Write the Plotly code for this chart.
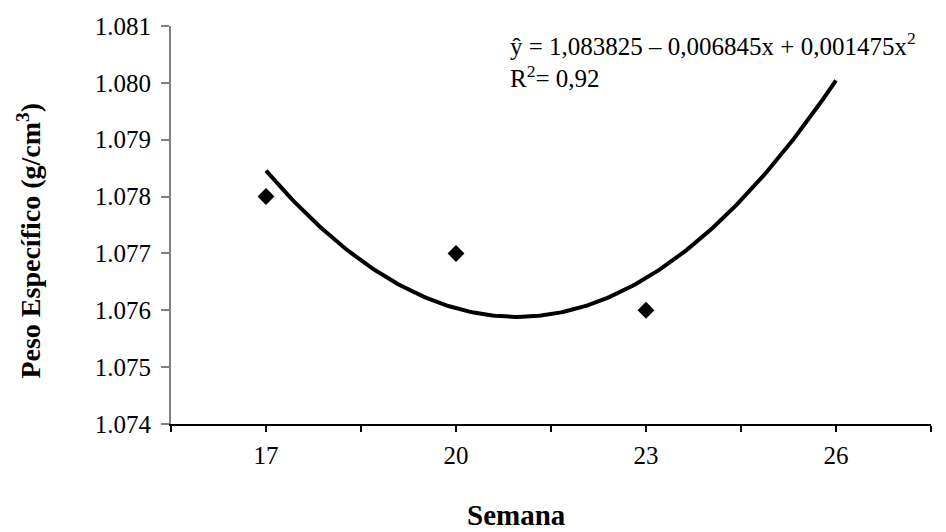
import numpy as np
import plotly.graph_objects as go

# Observed specific weight per week
semana = [17, 20, 23]
peso_especifico = [1.078, 1.077, 1.076]

# Quadratic trend: y = a + b*x + c*x^2, with x = week order (1, 2, 3, 4)
coef_a, coef_b, coef_c = 1.083825, -0.006845, 0.001475
semanas_tendencia = [17, 20, 23, 26]

# Axis ticks: labelled weeks plus unlabelled boundaries between them
x_ticks = [17, 20, 23, 26]
x_tick_text = ["17", "20", "23", "26"]
x_limites = [15.5, 18.5, 21.5, 24.5, 27.5]
y_ticks = [1.074, 1.075, 1.076, 1.077, 1.078, 1.079, 1.080, 1.081]

FONT = "Liberation Serif, Times New Roman, serif"

x_fit = np.linspace(semanas_tendencia[0], semanas_tendencia[-1], 200)
ordem = (x_fit - semanas_tendencia[0]) / (semanas_tendencia[1] - semanas_tendencia[0]) + 1
y_fit = coef_a + coef_b * ordem + coef_c * ordem ** 2

fig = go.Figure()
fig.add_trace(go.Scatter(
    x=x_fit, y=y_fit, mode="lines",
    line=dict(color="black", width=4),
    hoverinfo="skip", showlegend=False,
))
fig.add_trace(go.Scatter(
    x=semana, y=peso_especifico, mode="markers",
    marker=dict(symbol="diamond", size=13, color="black"),
    showlegend=False,
))

fig.update_layout(
    width=946, height=532,
    margin=dict(l=171, r=15, t=26, b=108),
    paper_bgcolor="white", plot_bgcolor="white",
    font=dict(family=FONT, size=25, color="black"),
    xaxis=dict(
        range=[15.5, 27.5], tickmode="array",
        tickvals=x_ticks, ticktext=x_tick_text,
        ticks="outside", ticklen=6, tickwidth=1.5, tickcolor="black",
        minor=dict(tickmode="array", tickvals=x_limites, ticks="outside",
                   ticklen=6, tickwidth=1.5, tickcolor="black", showgrid=False),
        showline=True, linecolor="black", linewidth=1.5,
        showgrid=False, zeroline=False, ticklabelstandoff=2,
    ),
    yaxis=dict(
        range=[1.074, 1.081], tickmode="array",
        tickvals=y_ticks, ticktext=[f"{v:.3f}" for v in y_ticks],
        ticks="outside", ticklen=8, tickwidth=1.5, tickcolor="#808080",
        showline=True, linecolor="#808080", linewidth=2,
        showgrid=False, zeroline=False, ticklabelstandoff=5,
    ),
    annotations=[
        dict(
            text="ŷ = 1,083825 – 0,006845x + 0,001475x<sup>2</sup><br>R<sup>2</sup>= 0,92",
            xref="paper", yref="paper", x=0.443, y=1.0,
            xanchor="left", yanchor="top", align="left", showarrow=False,
            font=dict(family=FONT, size=25),
        ),
        dict(
            text="<b>Peso Específico (g/cm<sup>3</sup>)</b>",
            xref="paper", yref="paper", x=-0.186, y=0.46,
            xanchor="center", yanchor="middle", textangle=-90, showarrow=False,
            font=dict(family=FONT, size=28),
        ),
        dict(
            text="<b>Semana</b>",
            xref="paper", yref="paper", x=0.455, y=-0.229,
            xanchor="center", yanchor="middle", showarrow=False,
            font=dict(family=FONT, size=29),
        ),
    ],
)

fig.write_html("out.html")
